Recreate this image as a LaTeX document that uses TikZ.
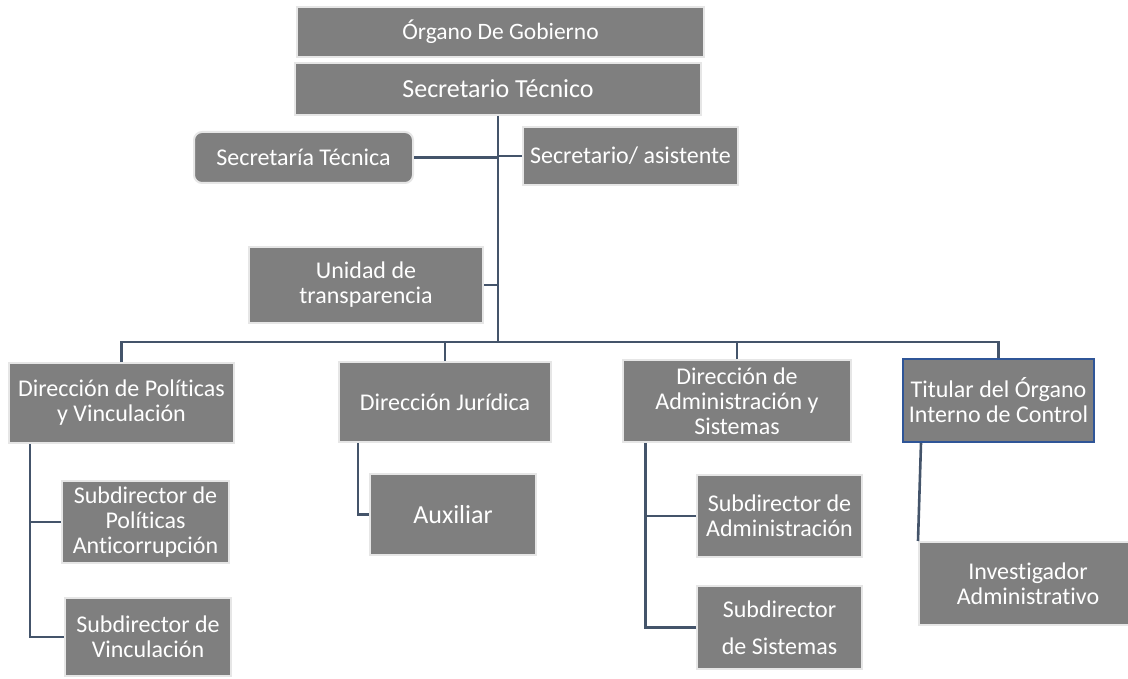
\documentclass[tikz,border=0pt]{standalone}
\usepackage{fontspec}
\setmainfont{Carlito}[Ligatures={NoCommon}]
\definecolor{boxgray}{HTML}{7F7F7F}
\definecolor{boxedge}{HTML}{E6E6E6}
\definecolor{connblue}{HTML}{44546A}
\definecolor{titedge}{HTML}{2F5597}
\begin{document}
\begin{tikzpicture}[x=1pt,y=-1pt,
  orgbox/.style={fill=boxgray, draw=boxedge, line width=2pt, text=white,
    align=center, inner sep=0pt, font=\fontsize{24}{25}\selectfont},
  conn/.style={draw=connblue, line width=2.6pt}]
\useasboundingbox (0,0) rectangle (1128,679);
\clip (0,0) rectangle (1128,679);

% boxes
\node[orgbox, minimum width=407pt, minimum height=50pt, font=\fontsize{23.5}{25}\selectfont] (org) at (500.5,32) {Órgano De Gobierno};
\node[orgbox, minimum width=406pt, minimum height=52pt, font=\fontsize{26}{27}\selectfont] (st) at (498,89) {Secretario Técnico};
\node[orgbox, rounded corners=8pt, minimum width=219pt, minimum height=51pt] (sect) at (303.5,157.5) {Secretaría Técnica};
\node[orgbox, minimum width=215pt, minimum height=58pt] (asis) at (630.5,156) {Secretario/ asistente};
\node[orgbox, minimum width=234pt, minimum height=76pt] (uni) at (366,285) {Unidad de\\transparencia};

\node[orgbox, minimum width=225pt, minimum height=80pt] (pol) at (121.5,403) {Dirección de Políticas\\y Vinculación};
\node[orgbox, minimum width=212pt, minimum height=80pt] (jur) at (445,402) {Dirección Jurídica};
\node[orgbox, minimum width=228pt, minimum height=82pt] (adm) at (737,401) {Dirección de\\Administración y\\Sistemas};
\node[orgbox, draw=titedge, minimum width=191pt, minimum height=83pt] (tit) at (998.5,400.5) {Titular del Órgano\\Interno de Control};

\node[orgbox, minimum width=167pt, minimum height=82pt] (spa) at (145.5,522) {Subdirector de\\Políticas\\Anticorrupción};
\node[orgbox, minimum width=166pt, minimum height=78pt] (spv) at (148,637) {Subdirector de\\Vinculación};
\node[orgbox, minimum width=166pt, minimum height=81pt, font=\fontsize{26}{27}\selectfont] (aux) at (453,514.5) {Auxiliar};
\node[orgbox, minimum width=165pt, minimum height=82pt] (sadm) at (779.5,516) {Subdirector de\\Administración};
\node[orgbox, minimum width=165pt, minimum height=83pt, font=\fontsize{24}{37}\selectfont] (ssis) at (779.5,627.5) {Subdirector\\de Sistemas};
\node[orgbox, minimum width=218pt, minimum height=83pt] (inv) at (1028,583.5) {Investigador\\Administrativo};

% connector coordinates
\coordinate (bus) at (498,342);
\coordinate (polx) at (30,444);
\coordinate (jurx) at (358,443);
\coordinate (admx) at (645.5,443);
\coordinate (titx) at (921,443);

% connectors
\draw[conn] (st.south) -- (bus);
\draw[conn] (sect.east) -- (sect.east -| bus);
\draw[conn] (asis.west) -- (asis.west -| bus);
\draw[conn] (uni.east) -- (uni.east -| bus);
\draw[conn] (pol.north) |- (bus) -| (tit.north);
\draw[conn] (jur.north) -- (jur.north |- bus);
\draw[conn] (adm.north) -- (adm.north |- bus);

\draw[conn] (polx) |- (spv.west);
\draw[conn] (polx |- spa.west) -- (spa.west);
\draw[conn] (jurx) |- (aux.west);
\draw[conn] (admx) |- (ssis.west);
\draw[conn] (admx |- sadm.west) -- (sadm.west);
\draw[conn] (titx) -- (inv.north west);
\end{tikzpicture}
\end{document}
